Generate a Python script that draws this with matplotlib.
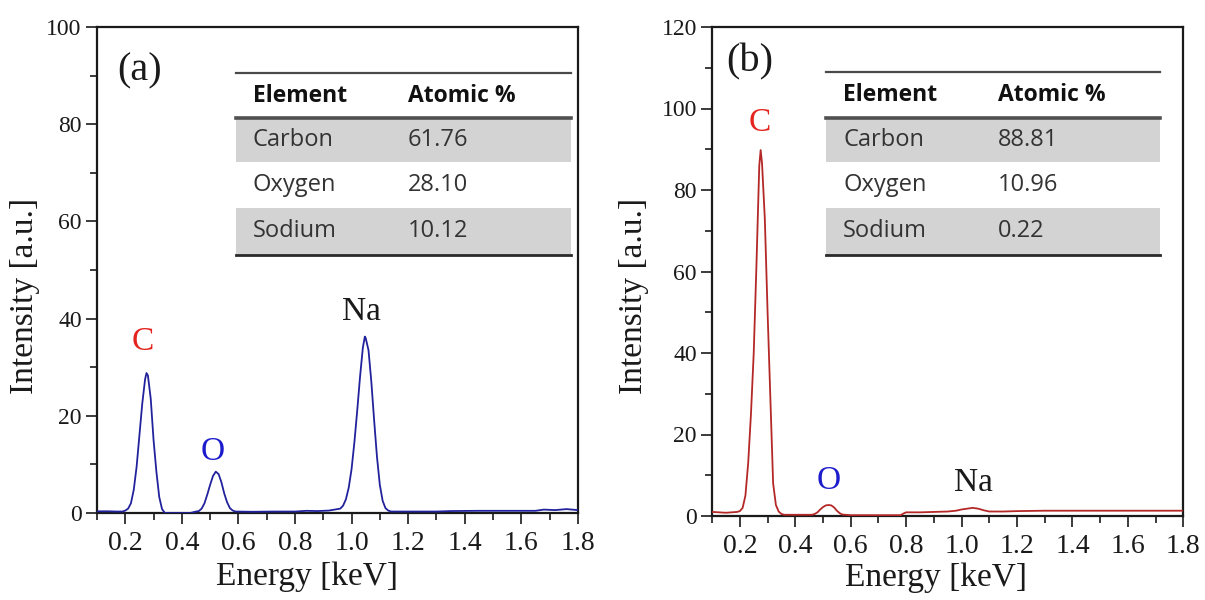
import numpy as np
import matplotlib
matplotlib.use('Agg')
import matplotlib.pyplot as plt
from matplotlib.patches import Rectangle
from matplotlib.ticker import MultipleLocator, FormatStrFormatter

# spectrum (a): energy in keV, intensity in a.u.
energy_a = [0.10, 0.14, 0.17, 0.19, 0.20, 0.21, 0.22, 0.23, 0.24, 0.25, 0.26, 0.27, 0.275,
            0.28, 0.29, 0.30, 0.31, 0.32, 0.33, 0.34, 0.38, 0.43, 0.45, 0.46, 0.47, 0.48,
            0.49, 0.50, 0.51, 0.52, 0.53, 0.54, 0.55, 0.56, 0.57, 0.58, 0.59, 0.65, 0.72,
            0.80, 0.84, 0.88, 0.92, 0.94, 0.95, 0.96, 0.97, 0.98, 0.99, 1.00, 1.01, 1.02,
            1.03, 1.04, 1.047, 1.05, 1.06, 1.07, 1.08, 1.09, 1.10, 1.11, 1.12, 1.13, 1.14,
            1.20, 1.30, 1.35, 1.45, 1.55, 1.65, 1.68, 1.72, 1.76, 1.80]
intensity_a = [0.35, 0.35, 0.3, 0.3, 0.5, 0.9, 2.0, 4.8, 9.5, 16.0, 22.5, 27.5, 28.8,
               28.3, 23.5, 15.0, 8.5, 3.3, 0.8, 0.0, 0.0, 0.0, 0.3, 0.4, 0.9, 2.0,
               3.8, 5.8, 7.6, 8.5, 8.0, 6.3, 4.0, 2.2, 1.0, 0.5, 0.3, 0.25, 0.3,
               0.3, 0.45, 0.4, 0.5, 0.7, 0.8, 0.9, 1.5, 2.8, 5.2, 9.0, 14.5, 21.0,
               28.0, 34.0, 36.3, 36.0, 33.5, 27.0, 19.0, 11.5, 5.8, 2.5, 1.0, 0.5, 0.3,
               0.3, 0.3, 0.4, 0.45, 0.45, 0.45, 0.7, 0.6, 0.8, 0.6]

# spectrum (b)
energy_b = [0.10, 0.15, 0.19, 0.20, 0.21, 0.22, 0.23, 0.24, 0.25, 0.26, 0.27, 0.275, 0.28,
            0.29, 0.30, 0.31, 0.32, 0.33, 0.34, 0.35, 0.36, 0.46, 0.47, 0.48, 0.49, 0.50,
            0.51, 0.52, 0.53, 0.54, 0.55, 0.56, 0.57, 0.60, 0.70, 0.78, 0.79, 0.80, 0.85,
            0.90, 0.95, 0.98, 1.00, 1.02, 1.04, 1.06, 1.08, 1.10, 1.15, 1.20, 1.30, 1.50,
            1.80]
intensity_b = [1.0, 0.8, 1.0, 1.2, 2.0, 5.0, 13.0, 25.0, 40.0, 62.0, 86.0, 89.8, 86.5,
               73.0, 50.0, 29.0, 8.0, 2.7, 1.1, 0.5, 0.3, 0.3, 0.5, 0.9, 1.6, 2.2,
               2.6, 2.7, 2.6, 2.1, 1.3, 0.7, 0.35, 0.2, 0.2, 0.2, 0.6, 0.9, 0.9,
               1.0, 1.1, 1.3, 1.6, 1.8, 2.0, 1.8, 1.4, 1.1, 1.1, 1.2, 1.3, 1.3,
               1.3]

# EDS tables
elements = ['Carbon', 'Oxygen', 'Sodium']
atomic_a = ['61.76', '28.10', '10.12']
atomic_b = ['88.81', '10.96', '0.22']

# peak labels: (text, energy, intensity, colour)
peaks_a = [('C', 0.263, 35.2, '#e3241f'), ('O', 0.51, 12.5, '#1c1ccc'), ('Na', 1.036, 41.4, '#1a1a1a')]
peaks_b = [('C', 0.273, 96.4, '#e3241f'), ('O', 0.522, 8.6, '#1c1ccc'), ('Na', 1.042, 8.1, '#1a1a1a')]

serif = 'Liberation Serif'
sans = ['Open Sans', 'DejaVu Sans']


def draw_table(ax, left, right, rows_y, col_x, values):
    # rows_y: top line, header line, row ends (axes fractions)
    top, head, r1, r2, bottom = rows_y
    for y0, y1 in [(r1, head), (bottom, r2)]:
        ax.add_patch(Rectangle((left, y0), right - left, y1 - y0, transform=ax.transAxes,
                               facecolor='#d3d3d3', edgecolor='none', zorder=1))
    ax.plot([left, right], [top, top], transform=ax.transAxes, color='#4a4a4a', lw=1.6, zorder=2)
    ax.plot([left, right], [head, head], transform=ax.transAxes, color='#505050', lw=2.6, zorder=2)
    ax.plot([left, right], [bottom, bottom], transform=ax.transAxes, color='#2a2a2a', lw=2.0, zorder=2)
    ym = (top + head) / 2
    ax.text(col_x[0], ym, 'Element', transform=ax.transAxes, family=sans, fontsize=16.5,
            fontweight='bold', va='center', ha='left', color='#111111')
    ax.text(col_x[1], ym, 'Atomic %', transform=ax.transAxes, family=sans, fontsize=16.5,
            fontweight='bold', va='center', ha='left', color='#111111')
    bounds = [head, r1, r2, bottom]
    for i in range(3):
        yc = (bounds[i] + bounds[i + 1]) / 2
        ax.text(col_x[0], yc, elements[i], transform=ax.transAxes, family=sans, fontsize=17,
                va='center', ha='left', color='#333333')
        ax.text(col_x[1], yc, values[i], transform=ax.transAxes, family=sans, fontsize=17,
                va='center', ha='left', color='#333333')


def draw_panel(ax, energy, intensity, color, ymax, tag, tag_pos, peaks):
    ax.plot(energy, intensity, color=color, lw=1.3, zorder=3)
    ax.set_xlim(0.1, 1.8)
    ax.set_ylim(0, ymax)
    ax.xaxis.set_major_locator(MultipleLocator(0.2))
    ax.xaxis.set_minor_locator(MultipleLocator(0.1))
    ax.xaxis.set_major_formatter(FormatStrFormatter('%.1f'))
    ax.yaxis.set_major_locator(MultipleLocator(20))
    ax.yaxis.set_minor_locator(MultipleLocator(10))
    ax.tick_params(which='both', direction='out', top=False, right=False, width=1.2, color='#1a1a1a')
    ax.tick_params(which='major', length=8)
    ax.tick_params(which='minor', length=5)
    ax.tick_params(axis='x', which='major', labelsize=20, pad=5)
    ax.tick_params(axis='y', which='major', labelsize=17, pad=3)
    for lab in ax.get_xticklabels() + ax.get_yticklabels():
        lab.set_family(serif)
        lab.set_color('#1a1a1a')
    for sp in ax.spines.values():
        sp.set_linewidth(1.6)
        sp.set_color('#1a1a1a')
    ax.set_xlabel('Energy [keV]', family=serif, fontsize=24, color='#1a1a1a')
    ax.set_ylabel('Intensity [a.u.]', family=serif, fontsize=24, color='#1a1a1a')
    ax.text(tag_pos[0], tag_pos[1], tag, family=serif, fontsize=29, va='center', ha='left',
            color='#1a1a1a')
    for name, x, y, c in peaks:
        ax.text(x, y, name, family=serif, fontsize=24, color=c, ha='center', va='center')


fig = plt.figure(figsize=(12.05, 6.0), dpi=100)
ax1 = fig.add_axes([0.0805, 0.145, 0.399, 0.81])
ax2 = fig.add_axes([0.591, 0.14, 0.391, 0.815])

draw_panel(ax1, energy_a, intensity_a, '#22229c', 100, '(a)', (0.17, 91.0), peaks_a)
draw_panel(ax2, energy_b, intensity_b, '#b42828', 120, '(b)', (0.15, 111.4), peaks_b)

draw_table(ax1, 0.289, 0.985, (0.905, 0.813, 0.722, 0.628, 0.531), (0.324, 0.647), atomic_a)
draw_table(ax2, 0.242, 0.951, (0.908, 0.814, 0.724, 0.630, 0.534), (0.278, 0.607), atomic_b)

ax1.xaxis.set_label_coords(0.437, -0.10)
ax2.xaxis.set_label_coords(0.476, -0.095)
ax1.yaxis.set_label_coords(-0.118, 0.446)
ax2.yaxis.set_label_coords(-0.135, 0.45)

fig.savefig('out.png', dpi=100)
